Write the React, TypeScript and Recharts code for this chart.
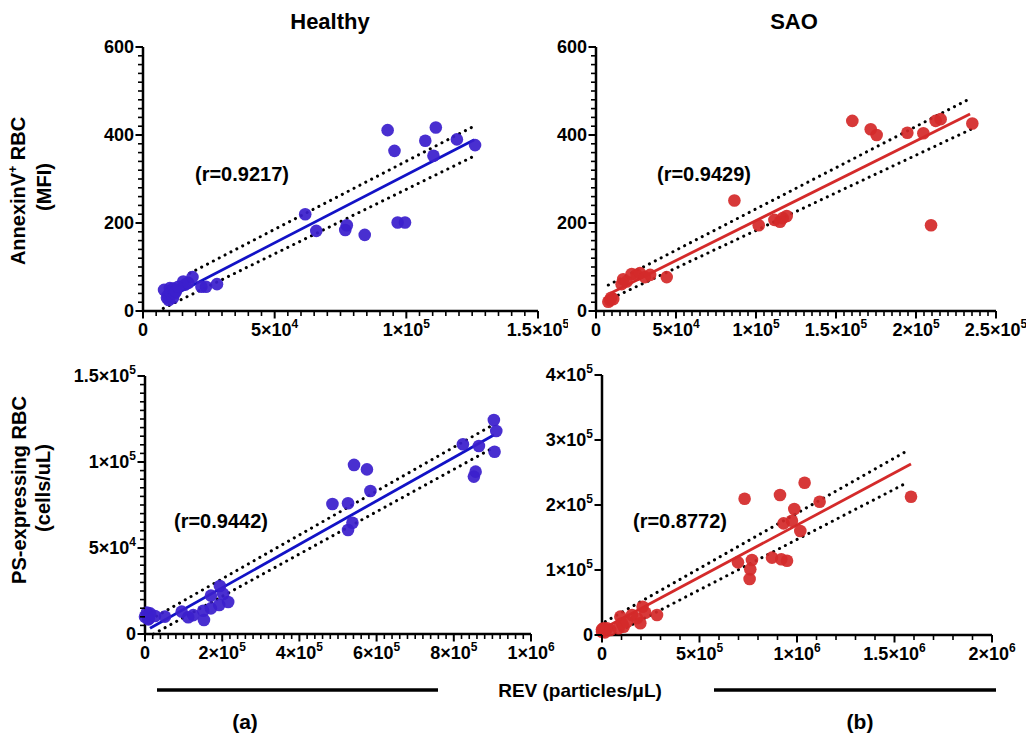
import React from "react"
import { ScatterChart, Scatter, XAxis, YAxis, ReferenceLine } from "recharts"

const FONT = "'Liberation Sans', Arial, Helvetica, sans-serif"
const BLUE = "#3b1fcc"
const BLUE_LINE = "#1212c6"
const RED = "#d42a2a"

// [REV, y] pairs
const healthyAnnexin = [
  [8000, 48], [9100, 30], [9500, 36], [9800, 25], [10200, 52], [10500, 42], [11400, 30], [11500, 51],
  [12000, 40], [12500, 45], [13400, 55], [15300, 67], [16000, 60], [17200, 64], [18800, 77],
  [22200, 55], [23900, 55], [28100, 61], [61600, 220], [65800, 182], [76800, 184], [77400, 195],
  [84200, 173], [92900, 411], [95500, 364], [96700, 201], [99500, 201], [107200, 387],
  [110300, 353], [111200, 417], [119200, 390], [126100, 377],
]
const saoAnnexin = [
  [7700, 21], [8800, 25], [9500, 30], [10800, 27], [16000, 61], [17000, 72], [19200, 67],
  [22300, 84], [25400, 82], [27500, 86], [30600, 77], [33800, 82], [44200, 77], [86500, 251],
  [101700, 195], [111500, 207], [115000, 203], [116700, 211], [119200, 216], [160200, 432],
  [171700, 413], [175400, 400], [194600, 405], [204600, 404], [209400, 195], [212300, 432],
  [215400, 436], [235200, 426],
]
const healthyPS = [
  [0, 10000], [5000, 12500], [8600, 8500], [10000, 9000], [13000, 12000], [25900, 10500],
  [51700, 10100], [95000, 13000], [112000, 9700], [125000, 11000], [150900, 13500], [152700, 8100],
  [170800, 14900], [170800, 22300], [192300, 16900], [194000, 27900], [202600, 23300],
  [215500, 18600], [485600, 75600], [526000, 76000], [526000, 60500], [537400, 64700],
  [541500, 98300], [575000, 95700], [584000, 83100], [823600, 110300], [852000, 91500],
  [856500, 94400], [865000, 109300], [903800, 124400], [905600, 106000], [910000, 118000],
]
const saoPS = [
  [0, 8700], [0, 5000], [8000, 10300], [15000, 4000], [25600, 10300], [42600, 7700], [85000, 10300],
  [94000, 28200], [102600, 18000], [110800, 12800], [128000, 20500], [153800, 30800],
  [179500, 25700], [196400, 18000], [208000, 43500], [222000, 34300], [282000, 30800],
  [697400, 111800], [731300, 209700], [757000, 86200], [760500, 101000], [769000, 115400],
  [871800, 119000], [912800, 215400], [919500, 116500], [931000, 171800], [948700, 114300],
  [974000, 175800], [986000, 193800], [1017000, 160000], [1039000, 234300], [1116000, 205000],
  [1584600, 212800],
]

// regression line and 95% band end points
const healthyAnnexinFit = { line: [[12800, 40], [125800, 389]], upper: [[17800, 86], [124700, 417]], lower: [[7700, 6], [126400, 354]] }
const saoAnnexinFit = { line: [[8750, 40], [233800, 448]], upper: [[7700, 59], [232300, 480]], lower: [[13900, 36], [234400, 413]] }
const healthyPSFit = { line: [[13000, 3300], [903800, 115700]], upper: [[15000, 8500], [901000, 121500]], lower: [[22000, 0], [903800, 108500]] }
const saoPSFit = { line: [[10000, 10300], [1584600, 263000]], upper: [[17000, 20500], [1572000, 284600]], lower: [[68000, 2600], [1564000, 234300]] }

const annexinTicks = [0, 200, 400, 600]
const psHealthyYTicks = [0, 50000, 100000, 150000]
const psSaoYTicks = [0, 100000, 200000, 300000, 400000]
const hAnnexinXTicks = [0, 50000, 100000, 150000]
const sAnnexinXTicks = [0, 50000, 100000, 150000, 200000, 250000]
const hPSXTicks = [0, 200000, 400000, 600000, 800000, 1000000]
const sPSXTicks = [0, 500000, 1000000, 1500000, 2000000]

const rLabels = ["(r=0.9217)", "(r=0.9429)", "(r=0.9442)", "(r=0.8772)"]

function label(v: number) {
  if (v < 1000) return <>{v}</>
  const e = Math.floor(Math.log10(v))
  const m = +(v / Math.pow(10, e)).toFixed(1)
  return <>{m}×10<tspan dy={-8} fontSize={12}>{e}</tspan></>
}

const txt = { fontFamily: FONT, fontWeight: 700, fill: "#000" }

// minor ticks are drawn between a major tick and the next one
function minors(majors: number[], value: number, sub: number, span: number) {
  const i = majors.indexOf(value)
  if (i < 0 || i >= majors.length - 1 || sub < 2) return []
  const gap = span / (majors.length - 1) / sub
  return Array.from({ length: sub - 1 }, (_, k) => (k + 1) * gap)
}

const xTick = (majors: number[], sub: number, span: number) => (p: any) => (
  <g>
    <line x1={p.x} x2={p.x} y1={p.y} y2={p.y + 7.5} stroke="#000" strokeWidth={2} />
    {minors(majors, p.payload.value, sub, span).map((d, k) => (
      <line key={k} x1={p.x + d} x2={p.x + d} y1={p.y} y2={p.y + 5} stroke="#000" strokeWidth={1.6} />
    ))}
    <text x={p.x} y={p.y + 25} textAnchor="middle" fontSize={18} {...txt}>{label(p.payload.value)}</text>
  </g>
)
const yTick = (majors: number[], sub: number, span: number) => (p: any) => (
  <g>
    <line x1={p.x} x2={p.x - 7.5} y1={p.y} y2={p.y} stroke="#000" strokeWidth={2} />
    {minors(majors, p.payload.value, sub, span).map((d, k) => (
      <line key={k} x1={p.x} x2={p.x - 5} y1={p.y - d} y2={p.y - d} stroke="#000" strokeWidth={1.6} />
    ))}
    <text x={p.x - 9} y={p.y + 6} textAnchor="end" fontSize={18} {...txt}>{label(p.payload.value)}</text>
  </g>
)

type PanelProps = {
  box: [number, number, number, number]
  pts: number[][]
  fit: { line: number[][]; upper: number[][]; lower: number[][] }
  color: string
  lineColor: string
  xTicks: number[]
  xSub: number
  yTicks: number[]
  ySub: number
}

function Panel({ box, pts, fit, color, lineColor, xTicks, xSub, yTicks, ySub }: PanelProps) {
  const [l, t, r, b] = box
  const data = pts.map(([x, y]) => ({ x, y }))
  const seg = (s: number[][]) => s.map(([x, y]) => ({ x, y }))
  const axisLine = { stroke: "#000", strokeWidth: 2.5 }
  return (
    <div style={{ position: "absolute", left: l - 100, top: t - 20 }}>
      <ScatterChart width={r - l + 130} height={b - t + 70} margin={{ top: 20, right: 30, bottom: 20, left: 0 }}>
        <XAxis type="number" dataKey="x" domain={[0, xTicks[xTicks.length - 1]]} ticks={xTicks}
          interval={0} tickSize={0} tickMargin={0} tickLine={false} axisLine={axisLine} height={30} tick={xTick(xTicks, xSub, r - l)} />
        <YAxis type="number" dataKey="y" domain={[0, yTicks[yTicks.length - 1]]} ticks={yTicks}
          interval={0} tickSize={0} tickMargin={0} tickLine={false} axisLine={axisLine} width={100} tick={yTick(yTicks, ySub, b - t)} />
        <ReferenceLine segment={seg(fit.upper)} stroke="#000" strokeWidth={3} strokeDasharray="0.1 6.5" strokeLinecap="round" ifOverflow="visible" />
        <ReferenceLine segment={seg(fit.lower)} stroke="#000" strokeWidth={3} strokeDasharray="0.1 6.5" strokeLinecap="round" ifOverflow="visible" />
        <Scatter data={data} isAnimationActive={false}
          shape={(p: any) => <circle cx={p.cx} cy={p.cy} r={6.3} fill={color} fillOpacity={0.93} />} />
        <ReferenceLine segment={seg(fit.line)} stroke={lineColor} strokeWidth={2.8} ifOverflow="visible" />
      </ScatterChart>
    </div>
  )
}

export default function App() {
  return (
    <div style={{ position: "absolute", left: 0, top: 0, width: 1035, height: 740, background: "#fff", overflow: "hidden" }}>
      <Panel box={[143, 47, 538, 311]} pts={healthyAnnexin} fit={healthyAnnexinFit} color={BLUE} lineColor={BLUE_LINE}
        xTicks={hAnnexinXTicks} xSub={10} yTicks={annexinTicks} ySub={10} />
      <Panel box={[596, 47, 996, 311]} pts={saoAnnexin} fit={saoAnnexinFit} color={RED} lineColor={RED}
        xTicks={sAnnexinXTicks} xSub={10} yTicks={annexinTicks} ySub={10} />
      <Panel box={[145, 376, 531, 634]} pts={healthyPS} fit={healthyPSFit} color={BLUE} lineColor={BLUE_LINE}
        xTicks={hPSXTicks} xSub={10} yTicks={psHealthyYTicks} ySub={10} />
      <Panel box={[602, 375, 992, 635]} pts={saoPS} fit={saoPSFit} color={RED} lineColor={RED}
        xTicks={sPSXTicks} xSub={5} yTicks={psSaoYTicks} ySub={1} />

      <svg width={1035} height={740} style={{ position: "absolute", left: 0, top: 0, pointerEvents: "none" }}>
        <g {...txt}>
          <text x={330} y={29} fontSize={22} textAnchor="middle">Healthy</text>
          <text x={794} y={29} fontSize={22} textAnchor="middle">SAO</text>

          <text transform="rotate(-90 18 191)" x={18} y={191} dy={7} fontSize={20} textAnchor="middle">
            AnnexinV<tspan dy={-8} fontSize={12}>+</tspan><tspan dy={8}>  RBC</tspan>
          </text>
          <text transform="rotate(-90 44 187)" x={44} y={187} dy={7} fontSize={20} textAnchor="middle">(MFI)</text>
          <text transform="rotate(-90 19 490)" x={19} y={490} dy={7} fontSize={20} textAnchor="middle">PS-expressing  RBC</text>
          <text transform="rotate(-90 43 488)" x={43} y={488} dy={7} fontSize={20} textAnchor="middle">(cells/uL)</text>

          <text x={195} y={181} fontSize={20}>{rLabels[0]}</text>
          <text x={657} y={181} fontSize={20}>{rLabels[1]}</text>
          <text x={174} y={528} fontSize={20}>{rLabels[2]}</text>
          <text x={633} y={528} fontSize={20}>{rLabels[3]}</text>

          <text x={580} y={697} fontSize={19} textAnchor="middle">REV (particles/μL)</text>
          <text x={245} y={729} fontSize={21} textAnchor="middle">(a)</text>
          <text x={860} y={729} fontSize={21} textAnchor="middle">(b)</text>
        </g>
        <line x1={157} x2={438} y1={690} y2={690} stroke="#000" strokeWidth={3.5} />
        <line x1={714} x2={996} y1={690} y2={690} stroke="#000" strokeWidth={3.5} />
      </svg>
    </div>
  )
}
